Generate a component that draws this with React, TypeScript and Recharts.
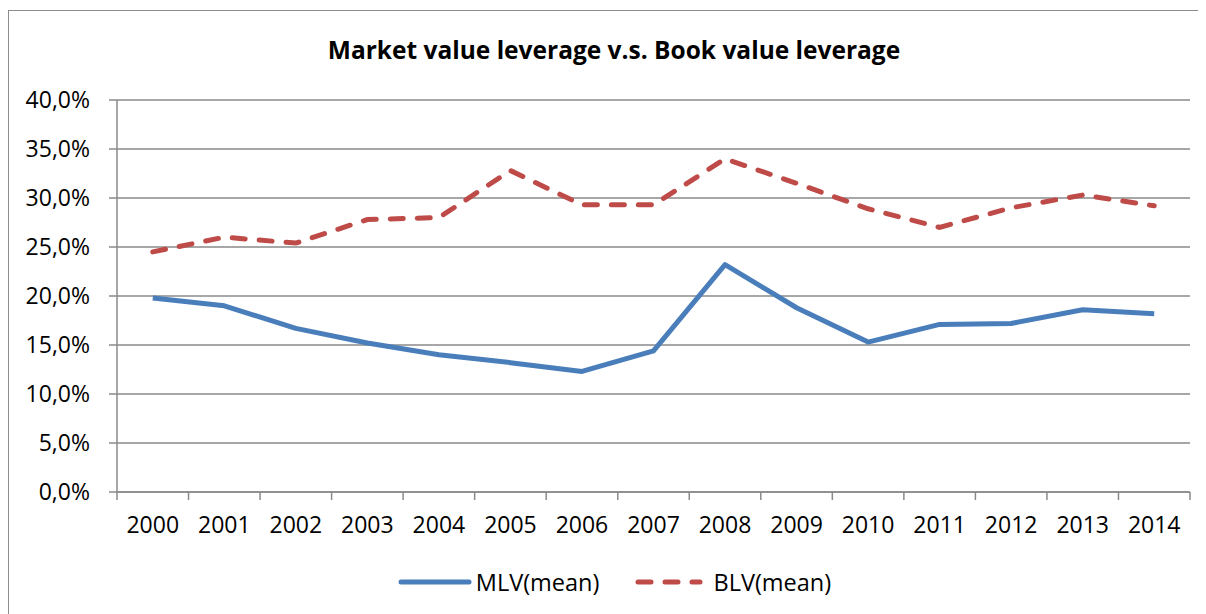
import { LineChart, Line, XAxis, YAxis, CartesianGrid, Legend } from "recharts"

const years = ["2000", "2001", "2002", "2003", "2004", "2005", "2006", "2007", "2008", "2009", "2010", "2011", "2012", "2013", "2014"]
const mlvMean = [19.8, 19.0, 16.7, 15.2, 14.0, 13.2, 12.3, 14.4, 23.2, 18.8, 15.3, 17.1, 17.2, 18.6, 18.2]
const blvMean = [24.5, 26.0, 25.4, 27.8, 28.0, 32.8, 29.3, 29.3, 34.0, 31.5, 28.9, 27.0, 29.0, 30.3, 29.2]
const yTicks = [0, 5, 10, 15, 20, 25, 30, 35, 40]
const seriesNames = ["MLV(mean)", "BLV(mean)"]

const data = years.map((year, i) => ({ year, mlv: mlvMean[i], blv: blvMean[i] }))

const FONT = '"Open Sans", "Noto Sans", sans-serif'
const GRID = "#8a8a8a"
const BLUE = "#4a7ebb"
const RED = "#be4b48"
const DASH = "13 14"

const W = 1198
const H = 600
const M = { top: 89, right: 17, left: 0, bottom: 0 }
const Y_W = 108
const PLOT_W = W - M.left - M.right - Y_W
const HALF = PLOT_W / years.length / 2
const TICK = 8
const TICK_GAP = 17

const fmtPct = (v: number) => `${v.toFixed(1).replace(".", ",")}%`

// label at the category, tick marks at the category boundaries
const YearTick = (props: any) => {
  const { x, y, payload, index } = props
  const top = y - TICK_GAP - TICK
  return (
    <g>
      <line x1={x - HALF} x2={x - HALF} y1={top} y2={top + TICK} stroke={GRID} strokeWidth={1.5} />
      {index === years.length - 1 && (
        <line x1={x + HALF} x2={x + HALF} y1={top} y2={top + TICK} stroke={GRID} strokeWidth={1.5} />
      )}
      <text x={x} y={y} dy="0.71em" textAnchor="middle" fill="#000" fontSize={23} fontFamily={FONT}>
        {payload.value}
      </text>
    </g>
  )
}

const LegendContent = (props: any) => {
  const items = [...(props.payload || [])].sort(
    (a: any, b: any) => seriesNames.indexOf(a.value) - seriesNames.indexOf(b.value)
  )
  return (
    <div
      style={{
        display: "flex",
        justifyContent: "center",
        alignItems: "center",
        height: 58,
        paddingLeft: 30,
        fontFamily: FONT,
        fontSize: 23.5,
        color: "#000",
      }}
    >
      {items.map((it: any, i: number) => {
        const dashed = it.value === seriesNames[1]
        return (
          <div key={i} style={{ display: "flex", alignItems: "center", marginRight: i === 0 ? 36 : 0 }}>
            <svg width={dashed ? 68 : 74} height={10}>
              <line
                x1={3}
                x2={dashed ? 65 : 71}
                y1={5}
                y2={5}
                stroke={it.color}
                strokeWidth={5}
                strokeLinecap="round"
                strokeDasharray={dashed ? DASH : undefined}
              />
            </svg>
            <span style={{ marginLeft: dashed ? 10 : 4 }}>{it.value}</span>
          </div>
        )
      })}
    </div>
  )
}

export default function App() {
  return (
    <div
      style={{
        position: "relative",
        width: W,
        height: H + 4,
        marginTop: 2,
        borderTop: "1px solid #8c8c8c",
        borderLeft: "1px solid #8c8c8c",
        boxSizing: "border-box",
        background: "#fff",
        overflow: "hidden",
      }}
    >
      <div
        style={{
          position: "absolute",
          top: 23,
          left: 0,
          width: W,
          paddingLeft: 12,
          boxSizing: "border-box",
          textAlign: "center",
          lineHeight: "32px",
          fontFamily: FONT,
          fontWeight: 700,
          fontSize: 24.5,
          color: "#000",
        }}
      >
        Market value leverage v.s. Book value leverage
      </div>
      <LineChart width={W} height={H} data={data} margin={M}>
        <CartesianGrid vertical={false} stroke={GRID} strokeWidth={1.5} />
        <XAxis
          dataKey="year"
          padding={{ left: HALF, right: HALF }}
          tickLine={false}
          axisLine={{ stroke: GRID, strokeWidth: 1.5 }}
          tickSize={TICK}
          tickMargin={TICK_GAP}
          tick={<YearTick />}
          interval={0}
          height={61}
        />
        <YAxis
          width={Y_W}
          domain={[0, 40]}
          ticks={yTicks}
          tickFormatter={fmtPct}
          tickSize={TICK}
          tickMargin={19}
          axisLine={{ stroke: GRID, strokeWidth: 1.5 }}
          tickLine={{ stroke: GRID, strokeWidth: 1.5 }}
          tick={{ fill: "#000", fontSize: 23, fontFamily: FONT }}
        />
        <Legend verticalAlign="bottom" content={<LegendContent />} />
        <Line
          name={seriesNames[0]}
          dataKey="mlv"
          stroke={BLUE}
          strokeWidth={5}
          dot={false}
          strokeLinejoin="round"
          isAnimationActive={false}
        />
        <Line
          name={seriesNames[1]}
          dataKey="blv"
          stroke={RED}
          strokeWidth={5}
          strokeDasharray={DASH}
          strokeLinecap="round"
          dot={false}
          isAnimationActive={false}
        />
      </LineChart>
    </div>
  )
}
